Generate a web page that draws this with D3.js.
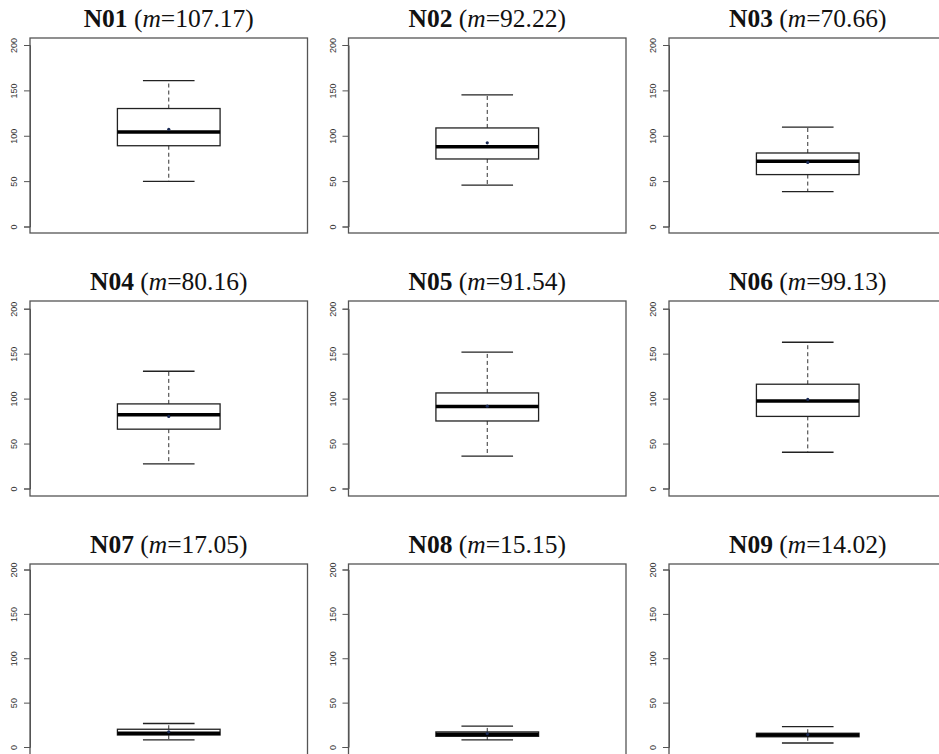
<!DOCTYPE html>
<html>
<head>
<meta charset="utf-8">
<script src="https://cdn.jsdelivr.net/npm/d3@7"></script>
<style>
  html, body { margin: 0; padding: 0; background: #fff; }
  svg { display: block; }
</style>
</head>
<body>
<svg id="chart" width="939" height="754"></svg>
<script>
// Nine stations, one boxplot each
const stations   = ["N01", "N02", "N03", "N04", "N05", "N06", "N07", "N08", "N09"];
const means      = [107.17, 92.22, 70.66, 80.16, 91.54, 99.13, 17.05, 15.15, 14.02];
const lowWhisker = [49.8, 45.6, 38.4, 27.4, 36.1, 40.3, 8.0, 8.0, 4.5];
const q1         = [89.0, 74.4, 57.2, 66.0, 75.1, 80.2, 13.5, 12.0, 11.5];
const medians    = [104.0, 88.0, 72.0, 81.9, 91.1, 97.4, 15.5, 14.5, 13.5];
const q3         = [130.0, 108.6, 81.0, 94.1, 106.3, 116.0, 20.0, 17.0, 15.5];
const highWhisker= [160.8, 145.0, 109.6, 130.4, 151.6, 162.7, 26.5, 23.5, 23.0];
const yTicks     = [0, 50, 100, 150, 200];

// Grid layout
const colLeft  = [30, 348.5, 669];
const rowTop   = [38, 301, 564];
const plotW = 277.5, plotH = 195;
// inner y range (offset from the panel top) for value 0 and value 200, per row
const rowRange = [[188.5, 7], [187.5, 7.7], [183, 5.5]];

const svg = d3.select("#chart");
const x = d3.scaleLinear().domain([0, 1]).range([0, plotW]);
const boxHalf = 0.185, capHalf = 0.093;

stations.forEach((name, i) => {
  const r = Math.floor(i / 3), c = i % 3;
  const g = svg.append("g").attr("transform", `translate(${colLeft[c]},${rowTop[r]})`);
  const y = d3.scaleLinear().domain([0, 200]).range(rowRange[r]);

  // title: bold station code + (m=mean)
  const t = g.append("text")
    .attr("x", x(0.5)).attr("y", -11)
    .attr("text-anchor", "middle")
    .attr("font-family", "'Liberation Serif', 'DejaVu Serif', serif")
    .attr("font-size", 25.5)
    .attr("fill", "#111");
  t.append("tspan").attr("font-weight", "bold").text(name);
  t.append("tspan").text(" (");
  t.append("tspan").attr("font-style", "italic").text("m");
  t.append("tspan").text("=" + d3.format(".2f")(means[i]) + ")");

  // y axis
  const ax = g.append("g").call(
    d3.axisLeft(y).tickValues(yTicks).tickSize(6).tickPadding(0).tickFormat(d3.format("d"))
  );
  ax.select(".domain").attr("stroke", "#555").attr("stroke-width", 1);
  ax.selectAll(".tick line").attr("stroke", "#555").attr("stroke-width", 1);
  ax.selectAll(".tick text")
    .attr("transform", "translate(-16,0) rotate(-90)")
    .attr("x", 0).attr("dy", "0.35em")
    .attr("text-anchor", "middle")
    .attr("font-family", "'Liberation Sans', Arial, sans-serif")
    .attr("font-size", 9)
    .attr("fill", "#333");

  // frame
  g.append("rect")
    .attr("x", 0).attr("y", 0).attr("width", plotW).attr("height", plotH)
    .attr("fill", "none").attr("stroke", "#555").attr("stroke-width", 1.3);

  const cx = x(0.5);
  // whiskers (dashed)
  g.append("line")
    .attr("x1", cx).attr("x2", cx)
    .attr("y1", y(q3[i])).attr("y2", y(highWhisker[i]))
    .attr("stroke", "#333").attr("stroke-width", 1).attr("stroke-dasharray", "4,3");
  g.append("line")
    .attr("x1", cx).attr("x2", cx)
    .attr("y1", y(q1[i])).attr("y2", y(lowWhisker[i]))
    .attr("stroke", "#333").attr("stroke-width", 1).attr("stroke-dasharray", "4,3");
  // whisker caps
  [highWhisker[i], lowWhisker[i]].forEach(v => {
    g.append("line")
      .attr("x1", x(0.5 - capHalf)).attr("x2", x(0.5 + capHalf))
      .attr("y1", y(v)).attr("y2", y(v))
      .attr("stroke", "#222").attr("stroke-width", 1.3);
  });
  // box
  g.append("rect")
    .attr("x", x(0.5 - boxHalf)).attr("width", x(0.5 + boxHalf) - x(0.5 - boxHalf))
    .attr("y", y(q3[i])).attr("height", y(q1[i]) - y(q3[i]))
    .attr("fill", "#fff").attr("stroke", "#222").attr("stroke-width", 1.3);
  // median
  g.append("line")
    .attr("x1", x(0.5 - boxHalf)).attr("x2", x(0.5 + boxHalf))
    .attr("y1", y(medians[i])).attr("y2", y(medians[i]))
    .attr("stroke", "#000").attr("stroke-width", 3.5);
  // mean marker
  g.append("circle")
    .attr("cx", cx).attr("cy", y(means[i])).attr("r", 1.6)
    .attr("fill", "#1a2a55");
});
</script>
</body>
</html>
